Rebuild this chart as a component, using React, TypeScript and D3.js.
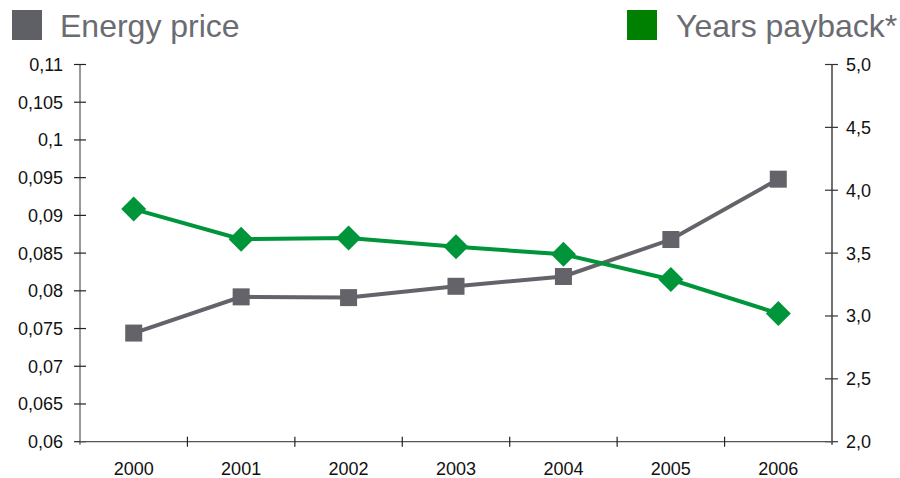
import React from "react";
import * as d3 from "d3";

const years = ["2000", "2001", "2002", "2003", "2004", "2005", "2006"];
const energyPrice = [0.0744, 0.0792, 0.0791, 0.0806, 0.0819, 0.0868, 0.0948];
const yearsPayback = [3.85, 3.61, 3.62, 3.55, 3.49, 3.29, 3.02];
const leftTicks = [0.06, 0.065, 0.07, 0.075, 0.08, 0.085, 0.09, 0.095, 0.1, 0.105, 0.11];
const rightTicks = [2.0, 2.5, 3.0, 3.5, 4.0, 4.5, 5.0];

const W = 900, H = 478;
const left = 80, right = 832, top = 64.5, bottom = 441.7;
const GRAY = "#636369";
const GREEN = "#00953a";
const FONT = "'Liberation Sans', Arial, sans-serif";

export default function App() {
  const x = d3.scaleBand<string>().domain(years).range([left, right]);
  const yL = d3.scaleLinear().domain([0.06, 0.11]).range([bottom, top]);
  const yR = d3.scaleLinear().domain([2, 5]).range([bottom, top]);
  const cx = (d: string) => (x(d) as number) + x.bandwidth() / 2;
  const lineL = d3.line<number>().x((_, i) => cx(years[i])).y((d) => yL(d));
  const lineR = d3.line<number>().x((_, i) => cx(years[i])).y((d) => yR(d));
  const fmtL = (v: number) => String(+v.toFixed(3)).replace(".", ",");
  const fmtR = (v: number) => v.toFixed(1).replace(".", ",");
  const bounds = years.map((y) => x(y) as number).concat([right]);
  const sq = 17, dm = 12.5;

  return (
    <svg width={W} height={H} style={{ position: "absolute", left: 0, top: 0, background: "#fff" }} fontFamily={FONT}>
      {/* legend */}
      <rect x={12} y={10} width={30} height={30} fill="#5f6066" />
      <text x={60} y={37} fontSize={32} fill="#6b6c72">Energy price</text>
      <rect x={627} y={10} width={30} height={30} fill="#008000" />
      <text x={676} y={37} fontSize={32} fill="#6b6c72">Years payback*</text>

      {/* left axis */}
      <line x1={left} x2={left} y1={top} y2={bottom + 3} stroke="#555" strokeWidth={1.2} />
      {leftTicks.map((t) => (
        <g key={"l" + t}>
          <line x1={left - 6} x2={left + 6} y1={yL(t)} y2={yL(t)} stroke="#222" strokeWidth={1.2} />
          <text x={63} y={yL(t) + 6.5} fontSize={18} textAnchor="end" fill="#111">{fmtL(t)}</text>
        </g>
      ))}
      {/* right axis */}
      <line x1={right} x2={right} y1={top} y2={bottom + 3} stroke="#111" strokeWidth={1.2} />
      {rightTicks.map((t) => (
        <g key={"r" + t}>
          <line x1={right - 7} x2={right + 6} y1={yR(t)} y2={yR(t)} stroke="#333" strokeWidth={1.2} />
          <text x={846} y={yR(t) + 6.5} fontSize={18} textAnchor="start" fill="#111">{fmtR(t)}</text>
        </g>
      ))}
      {/* x axis */}
      <line x1={left} x2={right} y1={bottom} y2={bottom} stroke="#555" strokeWidth={1.2} />
      {bounds.slice(1, -1).map((b, i) => (
        <line key={"xt" + i} x1={b} x2={b} y1={bottom - 5} y2={bottom + 5} stroke="#222" strokeWidth={1.2} />
      ))}
      {years.map((y) => (
        <text key={"xl" + y} x={cx(y)} y={475} fontSize={18} textAnchor="middle" fill="#111">{y}</text>
      ))}

      {/* series */}
      <path d={lineL(energyPrice) || ""} fill="none" stroke={GRAY} strokeWidth={4} />
      {energyPrice.map((v, i) => (
        <rect key={"s" + i} x={cx(years[i]) - sq / 2} y={yL(v) - sq / 2} width={sq} height={sq} fill={GRAY} />
      ))}
      <path d={lineR(yearsPayback) || ""} fill="none" stroke={GREEN} strokeWidth={4} />
      {yearsPayback.map((v, i) => {
        const px = cx(years[i]), py = yR(v);
        return (
          <path key={"d" + i} d={`M${px},${py - dm}L${px + dm},${py}L${px},${py + dm}L${px - dm},${py}Z`} fill={GREEN} />
        );
      })}
    </svg>
  );
}
